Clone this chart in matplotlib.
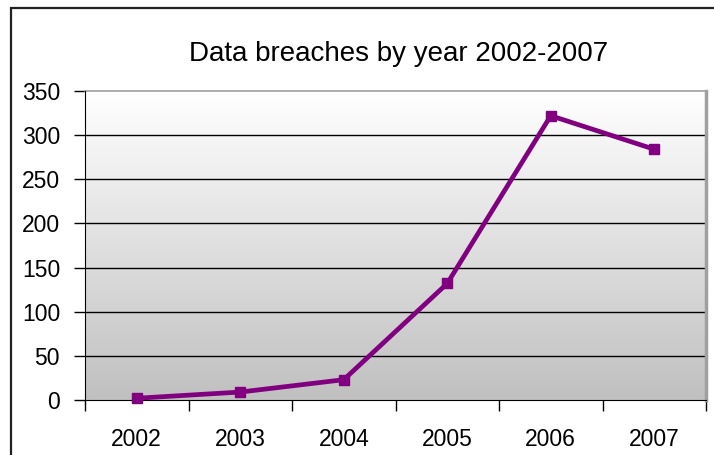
import numpy as np
import matplotlib.pyplot as plt
from matplotlib.patches import Rectangle
from matplotlib.colors import LinearSegmentedColormap

# data
years = ["2002", "2003", "2004", "2005", "2006", "2007"]
breaches = [2, 9, 23, 132, 322, 284]
y_ticks = [0, 50, 100, 150, 200, 250, 300, 350]

plt.rcParams["font.family"] = ["Liberation Sans", "DejaVu Sans"]

fig = plt.figure(figsize=(7.14, 4.55), dpi=100)
ax = fig.add_axes([85 / 714, 55 / 455, 621 / 714, 309 / 455])

# chart frame (cut off at right / bottom like the screenshot)
fig.patches.append(Rectangle((11 / 714, -0.05), 1.2, (455 - 8) / 455 + 0.05,
                             transform=fig.transFigure, fill=False,
                             edgecolor="#222222", linewidth=1.6))

# gradient plot area
grad = np.linspace(0, 1, 256).reshape(-1, 1)
cmap = LinearSegmentedColormap.from_list("g", ["#ffffff", "#c0c0c0"])
ax.imshow(grad, cmap=cmap, extent=[0, 1, 0, 1], transform=ax.transAxes,
          aspect="auto", zorder=0, vmin=0, vmax=1, origin="upper")

x = np.arange(len(years))
ax.set_xlim(-0.5, len(years) - 0.5)
ax.set_ylim(0, 350)

for t in y_ticks[1:-1]:
    ax.axhline(t, color="black", linewidth=1.0, zorder=1)

ax.plot(x, breaches, color="#800080", linewidth=3.4, marker="s",
        markersize=6.5, zorder=3, clip_on=False)

ax.set_yticks(y_ticks)
ax.set_xticks(x)
ax.set_xticklabels(years)
ax.set_xticks(np.arange(-0.5, len(years)), minor=True)
ax.tick_params(axis="x", which="major", length=0, pad=20, labelsize=16.5)
ax.tick_params(axis="x", which="minor", length=8, width=1, direction="out")
ax.tick_params(axis="y", length=8, width=1, direction="out", pad=10,
               labelsize=16.5)

ax.spines["left"].set_color("black")
ax.spines["bottom"].set_color("black")
ax.spines["top"].set_color("#a0a0a0")
ax.spines["right"].set_color("#a0a0a0")
ax.spines["right"].set_linewidth(2.5)
ax.spines["top"].set_linewidth(1.2)
ax.spines["left"].set_zorder(4)

fig.text(399 / 714, (455 - 61) / 455, "Data breaches by year 2002-2007",
         ha="center", va="baseline", fontsize=20)

fig.savefig("out.png", dpi=100)
